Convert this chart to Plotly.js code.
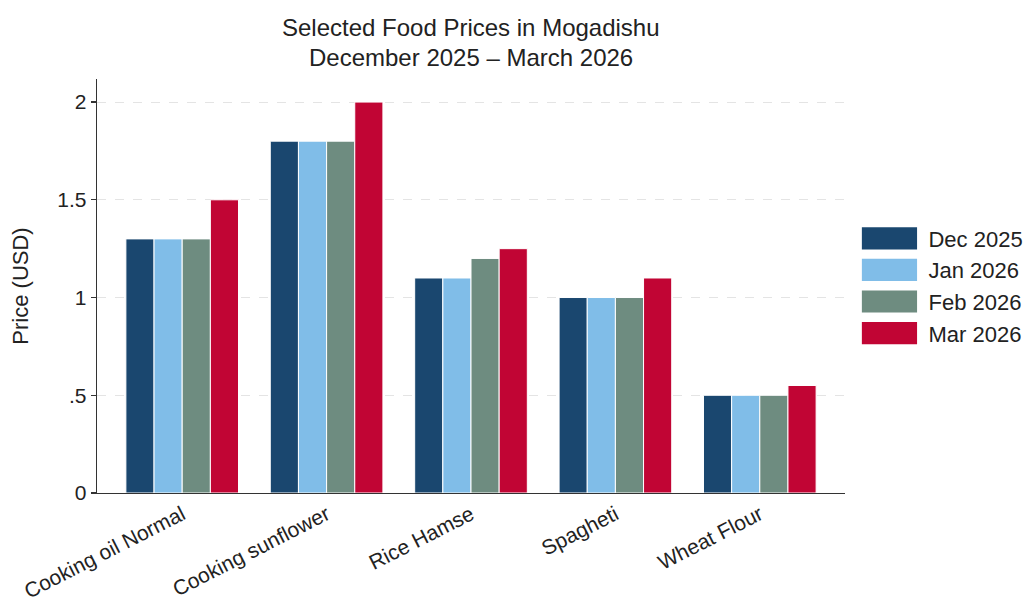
<!DOCTYPE html>
<html><head><meta charset="utf-8">
<script src="https://cdn.plot.ly/plotly-3.0.1.min.js"></script>
<style>html,body{margin:0;padding:0;background:#fff}#chart{width:1027px;height:602px}</style>
</head><body><div id="chart"></div>
<script>
const categories = ["Cooking oil Normal", "Cooking sunflower", "Rice Hamse", "Spagheti", "Wheat Flour"];
const seriesNames = ["Dec 2025", "Jan 2026", "Feb 2026", "Mar 2026"];
const dec2025 = [1.3, 1.8, 1.1, 1.0, 0.5];
const jan2026 = [1.3, 1.8, 1.1, 1.0, 0.5];
const feb2026 = [1.3, 1.8, 1.2, 1.0, 0.5];
const mar2026 = [1.5, 2.0, 1.25, 1.1, 0.55];
const yTickVals = [0, 0.5, 1, 1.5, 2];
const yTickText = ["0", ".5", "1", "1.5", "2"];
const titleLines = ["Selected Food Prices in Mogadishu", "December 2025 \u2013 March 2026"];
const colors = ["#1a476f", "#80bde8", "#6e8c80", "#c10534"];

const seriesValues = [dec2025, jan2026, feb2026, mar2026];
const traces = seriesValues.map((vals, i) => ({
  type: "bar",
  name: seriesNames[i],
  x: categories,
  y: vals,
  marker: {color: colors[i], line: {color: "#ffffff", width: 1}},
  hoverinfo: "x+y+name"
}));

const font = "Liberation Sans, Arial, sans-serif";
const layout = {
  width: 1027, height: 602,
  paper_bgcolor: "#fff", plot_bgcolor: "#fff",
  margin: {l: 97, r: 182, t: 79, b: 109, autoexpand: false},
  font: {family: font, color: "#222"},
  annotations: [
    {text: titleLines[0], xref: "paper", yref: "paper", x: 0.5, y: 1.124, xanchor: "center", yanchor: "middle",
     showarrow: false, font: {family: font, size: 24, color: "#222"}},
    {text: titleLines[1], xref: "paper", yref: "paper", x: 0.5, y: 1.051, xanchor: "center", yanchor: "middle",
     showarrow: false, font: {family: font, size: 24, color: "#222"}}
  ],
  barmode: "group",
  bargap: 0.22,
  bargroupgap: 0,
  xaxis: {
    range: [-0.59, 4.59],
    showline: true, linecolor: "#333", linewidth: 1.3,
    ticks: "", tickangle: -27,
    tickfont: {family: font, size: 21, color: "#222"},
    showgrid: false, zeroline: false, fixedrange: true, automargin: false
  },
  yaxis: {
    range: [0, 2.118],
    tickvals: yTickVals, ticktext: yTickText,
    ticks: "outside", ticklen: 5, tickcolor: "#333", tickwidth: 1.3,
    tickfont: {family: font, size: 21, color: "#222"},
    showline: true, linecolor: "#333", linewidth: 1.3,
    showgrid: true, gridcolor: "#e4e4e4", griddash: "dash", gridwidth: 1,
    zeroline: false,
    title: {text: "Price (USD)", font: {family: font, size: 22, color: "#222"}, standoff: 22},
    fixedrange: true, automargin: false
  },
  legend: {
    x: 1.018, xanchor: "left", y: 0.5, yanchor: "middle",
    font: {family: font, size: 22, color: "#222"},
    itemwidth: 60, tracegroupgap: 0,
    bgcolor: "rgba(0,0,0,0)"
  },
  showlegend: true
};

function enlargeLegend() {
  document.querySelectorAll("#chart .legend .legendpoints path").forEach(p => {
    p.setAttribute("transform", "translate(31,0) scale(4.6,1.85)");
    p.style.strokeWidth = "0px";
  });
}
Plotly.newPlot("chart", traces, layout, {displayModeBar: false, staticPlot: true}).then(gd => {
  enlargeLegend();
  gd.on("plotly_afterplot", enlargeLegend);
});
</script></body></html>
